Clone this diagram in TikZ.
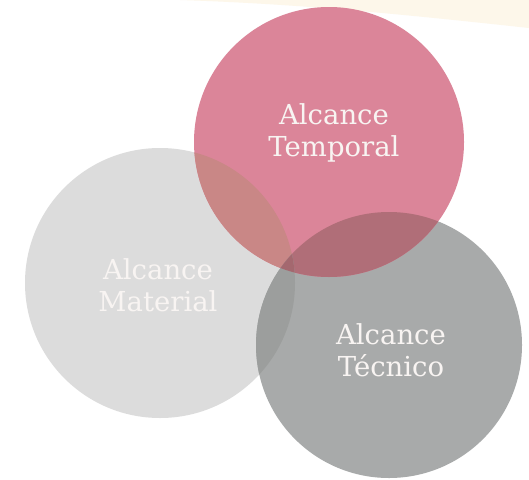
\documentclass[tikz,border=0pt]{standalone}
\usepackage{fontspec}
\setmainfont{DejaVu Serif}
\definecolor{bandc}{HTML}{FDF7EA}
\definecolor{pinkc}{HTML}{DB8599}
\definecolor{lightc}{HTML}{DCDCDC}
\definecolor{darkc}{HTML}{A8AAAA}
\definecolor{plc}{HTML}{C98786}
\definecolor{pdc}{HTML}{B06E78}
\definecolor{ldc}{HTML}{9C9E9D}
\definecolor{pldc}{HTML}{A4686F}
\definecolor{txtc}{HTML}{F8F4F2}
\tikzset{
  lbl/.style={text=txtc, align=center, font=\fontsize{27.5}{32}\selectfont, inner sep=0pt}
}
\begin{document}
\begin{tikzpicture}[x=1pt,y=-1pt]
\useasboundingbox (0,0) rectangle (529,479);
\fill[white] (0,0) rectangle (529,479);
\fill[bandc] (180,0) -- (529,0) -- (529,28) .. controls (400,14) and (300,4) .. (180,0) -- cycle;
% base circles
\fill[lightc] (160,283) circle (135);
\fill[darkc] (389,345) circle (133);
\fill[pinkc] (329,142) circle (135);
% overlaps
\begin{scope}
  \clip (160,283) circle (135);
  \fill[plc] (329,142) circle (135);
\end{scope}
\begin{scope}
  \clip (389,345) circle (133);
  \fill[pdc] (329,142) circle (135);
\end{scope}
\begin{scope}
  \clip (389,345) circle (133);
  \fill[ldc] (160,283) circle (135);
\end{scope}
\begin{scope}
  \clip (389,345) circle (133);
  \clip (160,283) circle (135);
  \fill[pldc] (329,142) circle (135);
\end{scope}
% labels
\node[lbl] (tem) at (334,133) {Alcance\\Temporal};
\node[lbl] (mat) at (158,285) {Alcance\\Material};
\node[lbl] (tec) at (391,350) {Alcance\\Técnico};
\end{tikzpicture}
\end{document}
